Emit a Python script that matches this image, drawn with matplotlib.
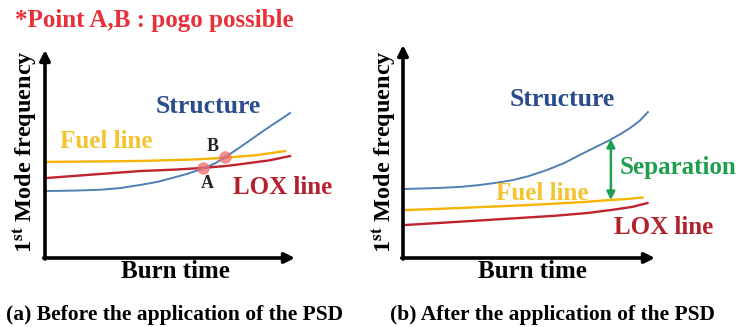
import numpy as np
import matplotlib
matplotlib.use("Agg")
import matplotlib.pyplot as plt

plt.rcParams['font.family'] = ['Liberation Serif', 'DejaVu Serif']
plt.rcParams['font.weight'] = 'bold'
plt.rcParams['mathtext.fontset'] = 'stix'

# (a) before the PSD: burn time vs 1st mode frequency (arbitrary units 0-10)
a_fuel_t = [0.1, 2.0, 4.0, 6.0, 7.1, 8.5, 9.6]
a_fuel_f = [4.62, 4.64, 4.67, 4.74, 4.81, 4.95, 5.14]
a_lox_t = [0.1, 2.0, 3.8, 5.2, 6.3, 7.3, 8.2, 9.0, 9.8]
a_lox_f = [3.85, 4.02, 4.18, 4.25, 4.33, 4.43, 4.57, 4.70, 4.90]
a_str_t = [0.1, 1.2, 2.2, 3.0, 3.8, 4.5, 5.1, 5.7, 6.3, 6.8, 7.2, 7.7, 8.2, 8.7, 9.1, 9.5, 9.8]
a_str_f = [3.22, 3.24, 3.28, 3.36, 3.51, 3.66, 3.85, 4.05, 4.29, 4.55, 4.84, 5.24, 5.66, 6.08, 6.41, 6.72, 6.97]
pogo_t = [6.3, 7.2]
pogo_f = [4.31, 4.86]

# (b) after the PSD
b_fuel_t = [0.1, 1.5, 3.06, 4.5, 6.0, 7.2, 8.2, 8.9, 9.5]
b_fuel_f = [2.25, 2.31, 2.39, 2.46, 2.55, 2.63, 2.72, 2.77, 2.84]
b_lox_t = [0.1, 1.5, 3.0, 4.5, 6.0, 7.3, 8.3, 9.1, 9.7]
b_lox_f = [1.55, 1.65, 1.76, 1.87, 1.98, 2.11, 2.26, 2.40, 2.58]
b_str_t = [0.08, 1.47, 2.3, 3.06, 3.7, 4.37, 5.0, 5.71, 6.4, 7.02, 7.6, 8.21, 8.6, 9.01, 9.4, 9.72]
b_str_f = [3.24, 3.29, 3.34, 3.43, 3.53, 3.66, 3.85, 4.13, 4.46, 4.84, 5.18, 5.54, 5.80, 6.10, 6.45, 6.85]
sep_t = 8.25
sep_f = [2.72, 5.59]

c_str = '#4f7fb5'
c_fuel = '#f5b400'
c_lox = '#c0232d'
lab_str = '#2b4c8c'
lab_fuel = '#f4c430'
lab_lox = '#b5202e'
c_sep = '#1f9e50'

fig = plt.figure(figsize=(7.4, 3.27), dpi=100)
W, H = 740, 327
axa = fig.add_axes([45 / W, (H - 258) / H, 250 / W, 208 / H])
axb = fig.add_axes([403 / W, (H - 258) / H, 252 / W, 213 / H])

for ax in (axa, axb):
    ax.set_xlim(0, 10)
    ax.set_ylim(0, 10)
    ax.axis('off')
    ax.annotate('', xy=(0, 1.0), xytext=(0, -0.005), xycoords='axes fraction',
                arrowprops=dict(arrowstyle='-|>', lw=2.6, color='black',
                                mutation_scale=15, shrinkA=0, shrinkB=0))
    ax.annotate('', xy=(1.0, 0), xytext=(-0.005, 0), xycoords='axes fraction',
                arrowprops=dict(arrowstyle='-|>', lw=2.6, color='black',
                                mutation_scale=15, shrinkA=0, shrinkB=0))

# panel (a)
axa.plot(a_fuel_t, a_fuel_f, color=c_fuel, lw=1.7)
axa.plot(a_lox_t, a_lox_f, color=c_lox, lw=1.7)
axa.plot(a_str_t, a_str_f, color=c_str, lw=1.4)
axa.plot(pogo_t, pogo_f, 'o', color='#f06a6a', alpha=0.75, ms=9, mec='none')
axa.text(6.52, 7.26, 'Structure', color=lab_str, fontsize=18.5, ha='center', va='center')
axa.text(2.44, 5.58, 'Fuel line', color=lab_fuel, fontsize=18, ha='center', va='center')
axa.text(9.52, 3.41, 'LOX line', color=lab_lox, fontsize=18, ha='center', va='center')
axa.text(6.72, 5.38, 'B', color='#222222', fontsize=13, ha='center', va='center')
axa.text(6.48, 3.56, 'A', color='#222222', fontsize=13, ha='center', va='center')

# panel (b)
axb.plot(b_fuel_t, b_fuel_f, color=c_fuel, lw=1.7)
axb.plot(b_lox_t, b_lox_f, color=c_lox, lw=1.7)
axb.plot(b_str_t, b_str_f, color=c_str, lw=1.4)
axb.annotate('', xy=(sep_t, sep_f[1]), xytext=(sep_t, sep_f[0]),
             arrowprops=dict(arrowstyle='<|-|>', lw=1.8, color=c_sep,
                             mutation_scale=12, shrinkA=0, shrinkB=0))
axb.text(6.31, 7.42, 'Structure', color=lab_str, fontsize=18.5, ha='center', va='center')
axb.text(8.61, 4.23, 'Separation', color=c_sep, fontsize=18, ha='left', va='center')
axb.text(5.52, 3.05, 'Fuel line', color=lab_fuel, fontsize=18, ha='center', va='center')
axb.text(10.36, 1.41, 'LOX line', color=lab_lox, fontsize=18, ha='center', va='center')

# figure texts
ylab = r'1$^{\mathbf{st}}$ Mode frequency'
fig.text(15 / W, 1 - 21 / H, '*Point A,B : pogo possible', color='#e8303a',
         fontsize=18, ha='left', va='center')
fig.text(25 / W, 1 - 152 / H, ylab, rotation=90, fontsize=17.5, ha='center', va='center')
fig.text(384 / W, 1 - 152 / H, ylab, rotation=90, fontsize=17.5, ha='center', va='center')
fig.text(175 / W, 1 - 272 / H, 'Burn time', fontsize=18, ha='center', va='center')
fig.text(532 / W, 1 - 272 / H, 'Burn time', fontsize=18, ha='center', va='center')
fig.text(175 / W, 1 - 315 / H, '(a) Before the application of the PSD', fontsize=15.5,
         ha='center', va='center')
fig.text(552 / W, 1 - 315 / H, '(b) After the application of the PSD', fontsize=15.5,
         ha='center', va='center')

fig.savefig('out.png', dpi=100)
